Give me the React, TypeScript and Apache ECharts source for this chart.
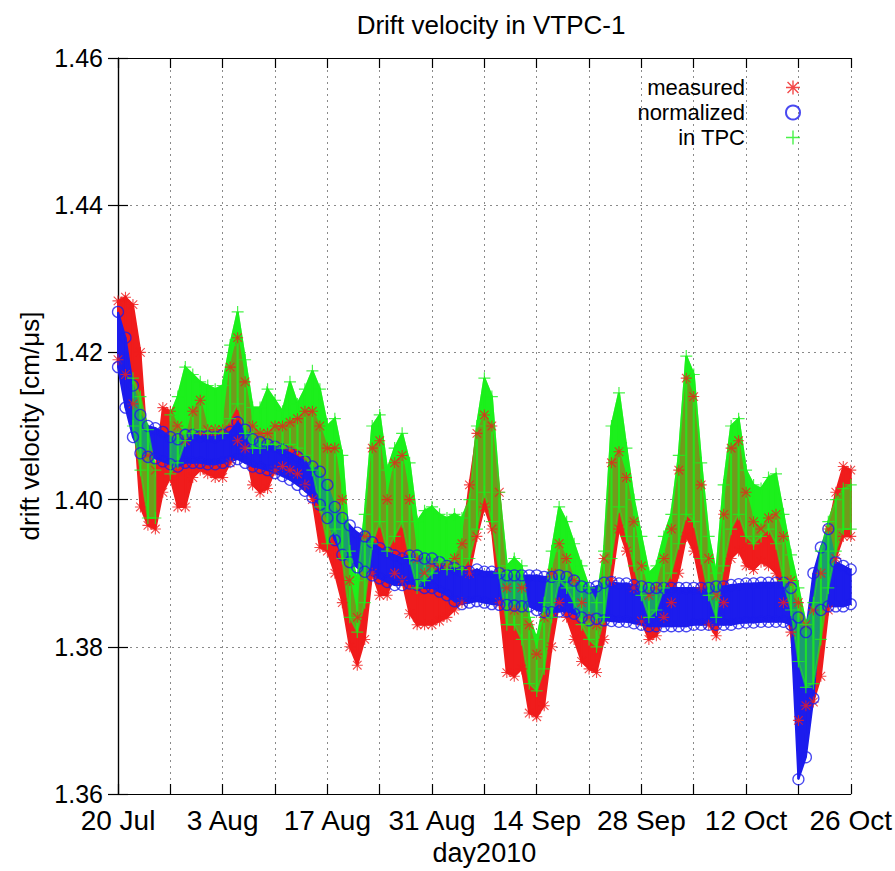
import React, { useEffect, useRef } from 'react';
import * as echarts from 'echarts';

// x = days since 20 Jul 2010
const tickLabels = ['20 Jul', '3 Aug', '17 Aug', '31 Aug', '14 Sep', '28 Sep', '12 Oct', '26 Oct'];

const measuredLo = [
  1.419, 1.417, 1.413, 1.399, 1.3965, 1.396, 1.401, 1.403, 1.399, 1.399,
  1.403, 1.404, 1.4035, 1.403, 1.403, 1.405, 1.408, 1.407, 1.402, 1.401,
  1.4015, 1.404, 1.4045, 1.404, 1.4035, 1.402, 1.4, 1.3935, 1.393, 1.39,
  1.386, 1.38, 1.3775, 1.381, 1.39, 1.387, 1.387, 1.39, 1.389, 1.3845,
  1.383, 1.383, 1.383, 1.3835, 1.384, 1.385, 1.386, 1.39, 1.395, 1.399,
  1.396, 1.386, 1.3765, 1.376, 1.377, 1.371, 1.3705, 1.372, 1.38, 1.386,
  1.384, 1.381, 1.378, 1.377, 1.3765, 1.381, 1.389, 1.396, 1.393, 1.388,
  1.3835, 1.381, 1.3815, 1.384, 1.386, 1.39, 1.395, 1.393, 1.388, 1.383,
  1.3815, 1.386, 1.392, 1.393, 1.391, 1.3905, 1.3915, 1.391, 1.39, 1.386,
  1.382, 1.37, 1.372, 1.3725, 1.376, 1.385, 1.392, 1.395, 1.395,
];
const measuredHi = [
  1.427, 1.4275, 1.4265, 1.42, 1.406, 1.404, 1.4125, 1.412, 1.41, 1.408,
  1.412, 1.4135, 1.4095, 1.4095, 1.4095, 1.418, 1.422, 1.416, 1.41, 1.409,
  1.409, 1.41, 1.41, 1.4105, 1.411, 1.412, 1.412, 1.41, 1.407, 1.407,
  1.4, 1.389, 1.384, 1.395, 1.407, 1.408, 1.4, 1.405, 1.406, 1.4,
  1.392, 1.39, 1.391, 1.391, 1.391, 1.392, 1.394, 1.402, 1.409, 1.4115,
  1.41, 1.401, 1.388, 1.385, 1.388, 1.383, 1.379, 1.384, 1.39, 1.394,
  1.392, 1.389, 1.386, 1.384, 1.383, 1.392, 1.405, 1.4065, 1.403, 1.397,
  1.391, 1.387, 1.388, 1.392, 1.396, 1.404, 1.4165, 1.414, 1.402, 1.392,
  1.387, 1.398, 1.407, 1.408, 1.401, 1.397, 1.396, 1.3975, 1.398, 1.395,
  1.389, 1.386, 1.383, 1.385, 1.39, 1.396, 1.401, 1.4045, 1.404,
];

const normalizedLo = [
  1.418, 1.4125, 1.4085, 1.4063, 1.4058, 1.4056, 1.4052, 1.4048, 1.4045, 1.405,
  1.405, 1.405, 1.4048, 1.4048, 1.405, 1.4052, 1.4055, 1.405, 1.4045, 1.4043,
  1.404, 1.4036, 1.4032, 1.4027, 1.402, 1.4012, 1.4003, 1.3993, 1.3975, 1.3945,
  1.3925, 1.3915, 1.3908, 1.3902, 1.3897, 1.3893, 1.3888, 1.3884, 1.3884, 1.3886,
  1.3884, 1.388, 1.388, 1.3875, 1.387, 1.3862, 1.3858, 1.386, 1.3862, 1.386,
  1.3858, 1.3857, 1.3857, 1.3856, 1.3855, 1.3855, 1.385, 1.3847, 1.3847, 1.3848,
  1.3848, 1.3845, 1.384, 1.3836, 1.3838, 1.3836, 1.3835, 1.3834, 1.3834, 1.3832,
  1.383, 1.3828, 1.3828, 1.3828, 1.3828, 1.3828, 1.3828, 1.383, 1.383, 1.383,
  1.383, 1.383, 1.383, 1.3832, 1.3833, 1.3833, 1.3834, 1.3834, 1.3834, 1.3834,
  1.383, 1.362, 1.365, 1.373, 1.385, 1.3855, 1.3855, 1.3855, 1.3858,
];
const normalizedHi = [
  1.4255, 1.422, 1.4155, 1.4115, 1.41, 1.4097, 1.4092, 1.4085, 1.4082, 1.4088,
  1.4088, 1.4086, 1.4086, 1.4085, 1.4088, 1.4092, 1.4105, 1.4095, 1.4082, 1.4078,
  1.4075, 1.4072, 1.4068, 1.4063, 1.4058, 1.4052, 1.4045, 1.4038, 1.402, 1.399,
  1.3975, 1.3965, 1.3955, 1.395, 1.3942, 1.3934, 1.3928, 1.3924, 1.392, 1.3924,
  1.3924, 1.392, 1.392, 1.3915, 1.391, 1.3907, 1.3902, 1.3902, 1.3905, 1.3902,
  1.3902, 1.39, 1.3897, 1.3897, 1.3897, 1.3897, 1.3897, 1.3895, 1.3895, 1.3897,
  1.3895, 1.389, 1.3882, 1.388, 1.3882, 1.3887, 1.3888, 1.3886, 1.3886, 1.3884,
  1.3882, 1.388, 1.388, 1.388, 1.388, 1.388, 1.388, 1.388, 1.388, 1.388,
  1.3882, 1.3882, 1.3884, 1.3885, 1.3886, 1.3886, 1.3887, 1.3887, 1.3887, 1.3887,
  1.388, 1.384, 1.382, 1.39, 1.3935, 1.396, 1.3915, 1.391, 1.3905,
];

const inTpcLo = [
  null, null, 1.41, 1.404, 1.3975, 1.3975, null, 1.4035, 1.405, 1.408,
  1.409, 1.4095, 1.409, 1.409, 1.409, 1.411, 1.413, 1.409, 1.407, 1.407,
  1.4075, 1.4075, 1.407, 1.4075, 1.407, 1.406, 1.404, 1.399, 1.394, 1.396,
  1.392, 1.384, 1.382, 1.386, 1.394, 1.397, 1.393, 1.395, 1.397, 1.392,
  1.388, 1.389, 1.39, 1.3915, 1.3905, 1.391, 1.3905, 1.392, 1.396, 1.401,
  1.397, 1.39, 1.383, 1.383, 1.381, 1.375, 1.374, 1.377, 1.384, 1.389,
  1.388, 1.386, 1.383, 1.381, 1.38, 1.384, 1.392, 1.399, 1.395, 1.391,
  1.387, 1.384, 1.385, 1.388, 1.39, 1.394, 1.398, 1.397, 1.392, 1.387,
  1.384, 1.391, 1.396, 1.398, 1.395, 1.394, 1.395, 1.396, 1.394, 1.389,
  1.385, 1.378, 1.3745, 1.375, 1.381, 1.388, 1.393, 1.396, 1.396,
];
const inTpcHi = [
  null, null, 1.4165, 1.414, 1.4095, 1.404, null, 1.4115, 1.414, 1.418,
  1.417, 1.416, 1.4155, 1.415, 1.4155, 1.421, 1.4255, 1.419, 1.4125, 1.4125,
  1.415, 1.4135, 1.412, 1.416, 1.413, 1.415, 1.4175, 1.415, 1.41, 1.411,
  1.406, 1.393, 1.389, 1.398, 1.41, 1.4115, 1.404, 1.407, 1.409, 1.405,
  1.397, 1.3985, 1.399, 1.398, 1.3975, 1.398, 1.3975, 1.4, 1.41, 1.4165,
  1.414, 1.401, 1.391, 1.392, 1.391, 1.384, 1.381, 1.386, 1.393, 1.399,
  1.397, 1.394, 1.391, 1.388, 1.386, 1.393, 1.41, 1.4145, 1.407, 1.4,
  1.395, 1.39, 1.391, 1.395, 1.398, 1.406, 1.4195, 1.417, 1.405, 1.395,
  1.39, 1.402, 1.41, 1.411, 1.404, 1.402, 1.4015, 1.403, 1.4035, 1.398,
  1.3925, 1.388, 1.383, 1.386, 1.393, 1.397, 1.4, 1.4015, 1.402,
];

const FONT = '"Liberation Sans", Arial, Helvetica, sans-serif';
const RED = '#f01c1c';
const BLUE = '#1c1ced';
const GREEN = '#1cf01c';

const STAR =
  'path://M9 0H11V20H9Z M0 9H20V11H0Z M1.5 2.9L2.9 1.5L18.5 17.1L17.1 18.5Z M17.1 1.5L18.5 2.9L2.9 18.5L1.5 17.1Z';
const PLUS = 'path://M9 0H11V20H9Z M0 9H20V11H0Z';

type Arr = (number | null)[];

function band(lo: Arr, hi: Arr, color: string, id: string, opacity = 1) {
  return {
    type: 'custom',
    name: id,
    silent: true,
    data: lo.map((v, i) => [i, v == null ? '-' : v, hi[i] == null ? '-' : hi[i]]),
    encode: { x: 0, y: [1, 2] },
    renderItem: (params: any, api: any) => {
      const i = params.dataIndex;
      if (i >= lo.length - 1) return null;
      if (lo[i] == null || lo[i + 1] == null || hi[i] == null || hi[i + 1] == null) return null;
      const pts = [
        api.coord([i, hi[i]]),
        api.coord([i + 1, hi[i + 1]]),
        api.coord([i + 1, lo[i + 1]]),
        api.coord([i, lo[i]]),
      ];
      return {
        type: 'polygon',
        shape: { points: pts },
        style: { fill: color, stroke: color, lineWidth: 2, opacity },
      };
    },
  };
}

function edges(lo: Arr, hi: Arr) {
  const out: number[][] = [];
  lo.forEach((v, i) => {
    if (v != null && hi[i] != null) {
      out.push([i, v]);
      out.push([i, hi[i] as number]);
    }
  });
  return out;
}

export default function App() {
  const ref = useRef<HTMLDivElement>(null);
  useEffect(() => {
    if (!ref.current) return;
    const chart = echarts.init(ref.current, undefined, { renderer: 'svg' });
    const axisText = { fontSize: 28, fontFamily: FONT, color: '#000' };
    chart.setOption({
      animation: false,
      backgroundColor: '#fff',
      title: {
        text: 'Drift velocity in VTPC-1',
        left: 486,
        top: 7,
        textAlign: 'center',
        textStyle: { fontSize: 26, fontWeight: 'normal', fontFamily: FONT, color: '#000' },
      },
      legend: {
        data: ['measured', 'normalized', 'in TPC'],
        orient: 'vertical',
        right: 89,
        top: 70,
        align: 'right',
        itemGap: 0,
        itemWidth: 86,
        itemHeight: 14,
        selectedMode: false,
        textStyle: { fontSize: 22, fontFamily: FONT, color: '#000', lineHeight: 25 },
      },
      grid: { left: 118, right: 44, top: 58, bottom: 70, containLabel: false },
      xAxis: [
        {
          type: 'value',
          min: 0,
          max: 98,
          interval: 7,
          position: 'bottom',
          name: 'day2010',
          nameLocation: 'middle',
          nameGap: 45,
          nameTextStyle: { ...axisText, fontSize: 27 },
          axisLine: { show: true, lineStyle: { color: '#000', width: 1.2 } },
          axisTick: { show: true, inside: true, length: 10, lineStyle: { color: '#000', width: 1.2 } },
          axisLabel: {
            ...axisText,
            margin: 12,
            formatter: (v: number) => (v % 14 === 0 ? tickLabels[v / 14] : ''),
          },
          splitLine: { show: true, lineStyle: { color: '#8a8a8a', type: [2, 4], width: 1 } },
        },
        {
          type: 'value',
          min: 0,
          max: 98,
          interval: 7,
          position: 'top',
          axisLine: { show: true, lineStyle: { color: '#000', width: 1.2 } },
          axisTick: { show: true, inside: true, length: 10, lineStyle: { color: '#000', width: 1.2 } },
          axisLabel: { show: false },
          splitLine: { show: false },
        },
      ],
      yAxis: [
        {
          type: 'value',
          min: 1.36,
          max: 1.46,
          interval: 0.02,
          position: 'left',
          name: 'drift velocity [cm/\u03bcs]',
          nameLocation: 'middle',
          nameGap: 75,
          nameTextStyle: { ...axisText, fontSize: 26 },
          axisLine: { show: true, lineStyle: { color: '#000', width: 1.2 } },
          axisTick: { show: true, inside: true, length: 10, lineStyle: { color: '#000', width: 1.2 } },
          axisLabel: { ...axisText, fontSize: 25, margin: 15, formatter: (v: number) => v.toFixed(2) },
          splitLine: { show: true, lineStyle: { color: '#8a8a8a', type: [2, 4], width: 1 } },
        },
        {
          type: 'value',
          min: 1.36,
          max: 1.46,
          interval: 0.02,
          position: 'right',
          axisLine: { show: true, lineStyle: { color: '#000', width: 1.2 } },
          axisTick: { show: true, inside: true, length: 10, lineStyle: { color: '#000', width: 1.2 } },
          axisLabel: { show: false },
          splitLine: { show: false },
        },
      ],
      series: [
        band(inTpcLo, inTpcHi, GREEN, '_t0'),
        band(measuredLo, measuredHi, RED, '_m'),
        {
          type: 'scatter',
          name: 'measured',
          silent: true,
          symbol: STAR,
          symbolSize: 11,
          itemStyle: { color: RED },
          data: edges(measuredLo, measuredHi),
        },
        band(normalizedLo, normalizedHi, BLUE, '_n'),
        {
          type: 'scatter',
          name: 'normalized',
          silent: true,
          symbol: 'circle',
          symbolSize: 11,
          itemStyle: { color: 'rgba(0,0,0,0)', borderColor: BLUE, borderWidth: 1.3 },
          data: edges(normalizedLo, normalizedHi),
        },
        band(inTpcLo, inTpcHi, GREEN, '_t1', 0.6),
        {
          type: 'scatter',
          name: 'in TPC',
          silent: true,
          symbol: PLUS,
          symbolSize: 12,
          itemStyle: { color: GREEN },
          data: edges(inTpcLo, inTpcHi),
        },
      ],
    });
    return () => chart.dispose();
  }, []);
  return (
    <div
      ref={ref}
      style={{ position: 'fixed', left: 0, top: 0, width: 895, height: 871, background: '#fff' }}
    />
  );
}
